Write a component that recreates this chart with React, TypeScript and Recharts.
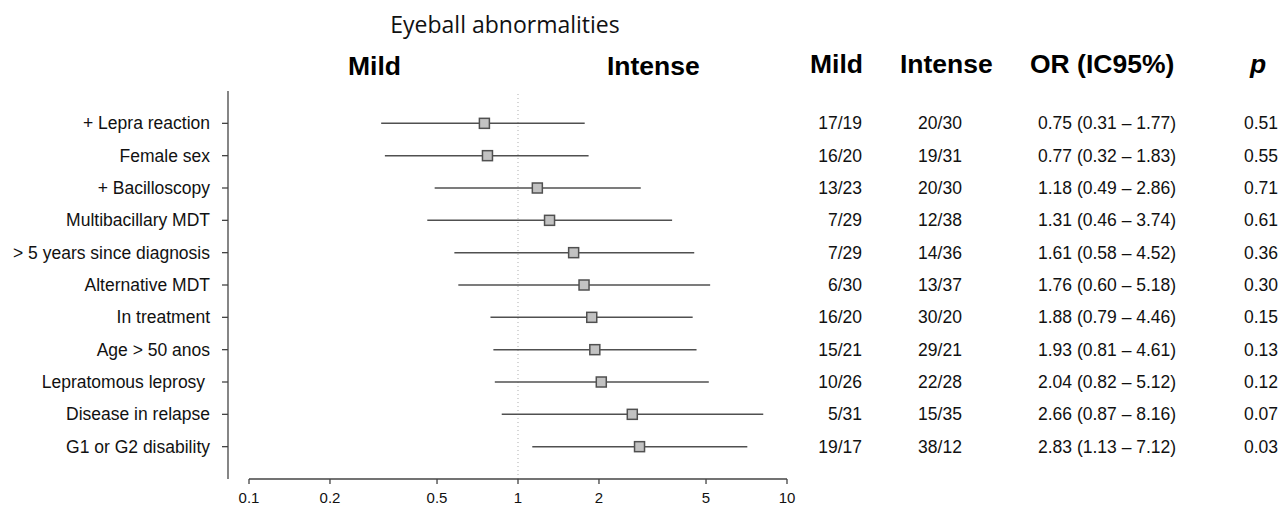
import React from "react";
import {
  ComposedChart,
  Scatter,
  ErrorBar,
  XAxis,
  YAxis,
  ReferenceLine,
  Customized,
} from "recharts";

// ---- Data ----
const labels = [
  "+ Lepra reaction",
  "Female sex",
  "+ Bacilloscopy",
  "Multibacillary MDT",
  "> 5 years since diagnosis",
  "Alternative MDT",
  "In treatment",
  "Age > 50 anos",
  "Lepratomous leprosy ",
  "Disease in relapse",
  "G1 or G2 disability",
];
const oddsRatios = [0.75, 0.77, 1.18, 1.31, 1.61, 1.76, 1.88, 1.93, 2.04, 2.66, 2.83];
const ciLow = [0.31, 0.32, 0.49, 0.46, 0.58, 0.6, 0.79, 0.81, 0.82, 0.87, 1.13];
const ciHigh = [1.77, 1.83, 2.86, 3.74, 4.52, 5.18, 4.46, 4.61, 5.12, 8.16, 7.12];
const mildCounts = ["17/19", "16/20", "13/23", "7/29", "7/29", "6/30", "16/20", "15/21", "10/26", "5/31", "19/17"];
const intenseCounts = ["20/30", "19/31", "20/30", "12/38", "14/36", "13/37", "30/20", "29/21", "22/28", "15/35", "38/12"];
const pValues = ["0.51", "0.55", "0.71", "0.61", "0.36", "0.30", "0.15", "0.13", "0.12", "0.07", "0.03"];
const xTicks = [0.1, 0.2, 0.5, 1, 2, 5, 10];
const rowTicks = labels.map((_, i) => i + 1);

const fmt = (v: number) => v.toFixed(2);

const rows = oddsRatios.map((or, i) => ({
  x: or,
  y: i + 1,
  err: [or - ciLow[i], ciHigh[i] - or],
}));

const SANS = "'Liberation Sans', Arial, sans-serif";
const AXIS = "#444";

// Row tick: the row label on the left and the table columns on the right
const RowTick = (p: any) => {
  const idx = Number(p.payload.value) - 1;
  const common = { y: p.y, dy: "0.35em", fontFamily: SANS, fontSize: 17.5, fill: "#111" };
  return (
    <g>
      <text {...common} x={p.x} textAnchor="end" style={{ whiteSpace: "pre" }}>
        {labels[idx]}
      </text>
      <text {...common} x={862} textAnchor="end">{mildCounts[idx]}</text>
      <text {...common} x={940} textAnchor="middle">{intenseCounts[idx]}</text>
      <text {...common} x={1038} textAnchor="start">
        {`${fmt(oddsRatios[idx])} (${fmt(ciLow[idx])} \u2013 ${fmt(ciHigh[idx])})`}
      </text>
      <text {...common} x={1278} textAnchor="end">{pValues[idx]}</text>
    </g>
  );
};

const XTick = (p: any) => (
  <text
    x={p.x}
    y={p.y}
    dy="0.75em"
    textAnchor="middle"
    fontFamily={SANS}
    fontSize={15}
    fill="#111"
  >
    {String(p.payload.value)}
  </text>
);

const Headers = () => {
  const bold = { fontFamily: SANS, fontSize: 26.5, fontWeight: 700, fill: "#000" };
  return (
    <g>
      <text x={505} y={33} textAnchor="middle" fontFamily="'Open Sans', Lato, sans-serif" fontSize={23} fill="#111">
        Eyeball abnormalities
      </text>
      <text {...bold} x={348} y={75}>Mild</text>
      <text {...bold} x={607} y={75}>Intense</text>
      <text {...bold} x={810} y={73}>Mild</text>
      <text {...bold} x={900} y={73}>Intense</text>
      <text {...bold} x={1030} y={73}>OR (IC95%)</text>
      <text {...bold} x={1250} y={73} fontStyle="italic">p</text>
    </g>
  );
};

const SquareShape = (p: any) => (
  <rect
    x={p.cx - 5}
    y={p.cy - 5}
    width={10}
    height={10}
    fill="#c2c2c2"
    stroke="#505050"
    strokeWidth={1.5}
  />
);

export default function App() {
  return (
    <div style={{ position: "absolute", left: 0, top: 0, background: "#fff" }}>
      <ComposedChart
        width={1281}
        height={506}
        margin={{ top: 91, right: 494, bottom: 0, left: 0 }}
      >
        <XAxis
          dataKey="x"
          type="number"
          scale="log"
          domain={[0.1, 10]}
          ticks={xTicks}
          allowDataOverflow
          padding={{ left: 21, right: 0 }}
          height={27}
          axisLine={false}
          tickLine={{ stroke: AXIS, strokeWidth: 1.3 }}
          tickSize={5}
          tickMargin={8}
          tick={XTick}
          interval={0}
        />
        <YAxis
          yAxisId="left"
          dataKey="y"
          type="number"
          domain={[0, 12]}
          reversed
          ticks={rowTicks}
          width={228}
          axisLine={{ stroke: AXIS, strokeWidth: 1.3 }}
          tickLine={{ stroke: AXIS, strokeWidth: 1.3 }}
          tickSize={6}
          tickMargin={12}
          tick={RowTick}
          interval={0}
        />
        <ReferenceLine
          yAxisId="left"
          x={1}
          stroke="#bdbdbd"
          strokeDasharray="1 3"
          strokeWidth={1.2}
        />
        <ReferenceLine
          yAxisId="left"
          segment={[
            { x: 0.1, y: 12 },
            { x: 10, y: 12 },
          ]}
          stroke={AXIS}
          strokeWidth={1.3}
        />
        <Scatter
          yAxisId="left"
          data={rows}
          dataKey="y"
          shape={SquareShape}
          isAnimationActive={false}
        >
          <ErrorBar
            dataKey="err"
            direction="x"
            width={0}
            stroke="#505050"
            strokeWidth={1.5}
            isAnimationActive={false}
          />
        </Scatter>
        <Customized component={Headers} />
      </ComposedChart>
    </div>
  );
}
